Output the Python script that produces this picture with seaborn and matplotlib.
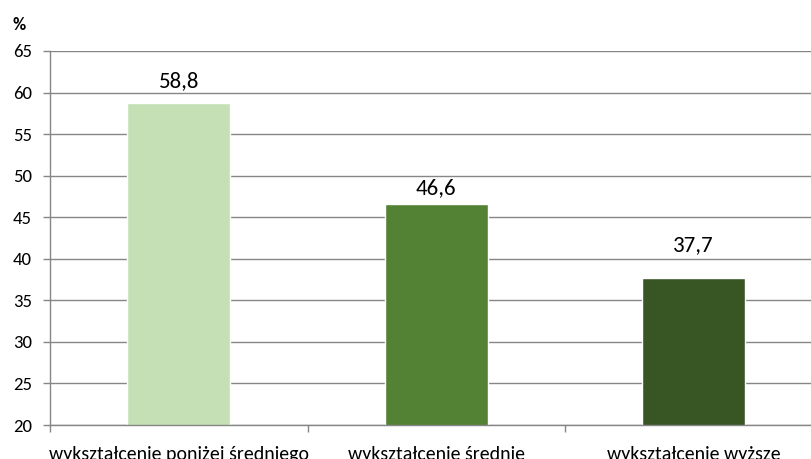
import numpy as np
import pandas as pd
import matplotlib
matplotlib.use('Agg')
import matplotlib.pyplot as plt
import seaborn as sns

# --- dane ---
kategorie = ['wykształcenie poniżej średniego', 'wykształcenie średnie', 'wykształcenie wyższe']
wartosci = [58.8, 46.6, 37.7]
kolory = ['#C5E0B4', '#548235', '#375623']
y_ticks = [20, 25, 30, 35, 40, 45, 50, 55, 60, 65]
# odstep etykiety od slupka (punkty), jak w oryginale
odstepy = [10.8, 7.2, 19.0]

sns.set_style('white')
plt.rcParams['font.family'] = ['Carlito', 'Liberation Sans', 'DejaVu Sans']
plt.rcParams['text.color'] = 'black'
plt.rcParams['xtick.color'] = 'black'
plt.rcParams['ytick.color'] = 'black'

df = pd.DataFrame({'kat': kategorie, 'val': wartosci})

fig = plt.figure(figsize=(8.11, 4.59), dpi=100)
# os wychodzi poza prawa krawedz obrazka (jak w oryginale)
ax = fig.add_axes([50 / 811, 34 / 459, 772.5 / 811, 374 / 459])

sns.barplot(data=df, x='kat', y='val', hue='kat', palette=kolory, legend=False,
            width=0.4, ax=ax, saturation=1)

grid_c = '#868686'
ax.set_ylim(20, 65)
ax.set_xlim(-0.5, 2.5)
ax.set_yticks(y_ticks)
ax.set_yticklabels([str(t) for t in y_ticks], fontsize=13.5)
ax.yaxis.grid(True, color=grid_c, linewidth=1)
ax.set_axisbelow(True)
for s in ['top', 'right']:
    ax.spines[s].set_visible(False)
for s in ['left', 'bottom']:
    ax.spines[s].set_color(grid_c)
    ax.spines[s].set_linewidth(1)

ax.tick_params(axis='y', which='major', left=True, length=5, width=1, color=grid_c,
               labelcolor='black', pad=8)
ax.set_xticks(range(len(kategorie)))
ax.set_xticklabels(kategorie, fontsize=14.3)
ax.tick_params(axis='x', which='major', length=0, pad=15, labelcolor='black')
ax.set_xticks([-0.5, 0.5, 1.5, 2.5], minor=True)
ax.tick_params(axis='x', which='minor', bottom=True, length=5, width=1, color=grid_c)
ax.set_xlabel('')
ax.set_ylabel('')

for i, v in enumerate(wartosci):
    ax.annotate(f'{v:.1f}'.replace('.', ','), (i, v), xytext=(0, odstepy[i]),
                textcoords='offset points', ha='center', va='baseline',
                fontsize=16.5, color='black')

fig.text(19 / 811, 1 - 25 / 459, '%', fontsize=13, fontweight='bold',
         va='center', ha='center', color='black')

fig.savefig('out.png', dpi=100)
